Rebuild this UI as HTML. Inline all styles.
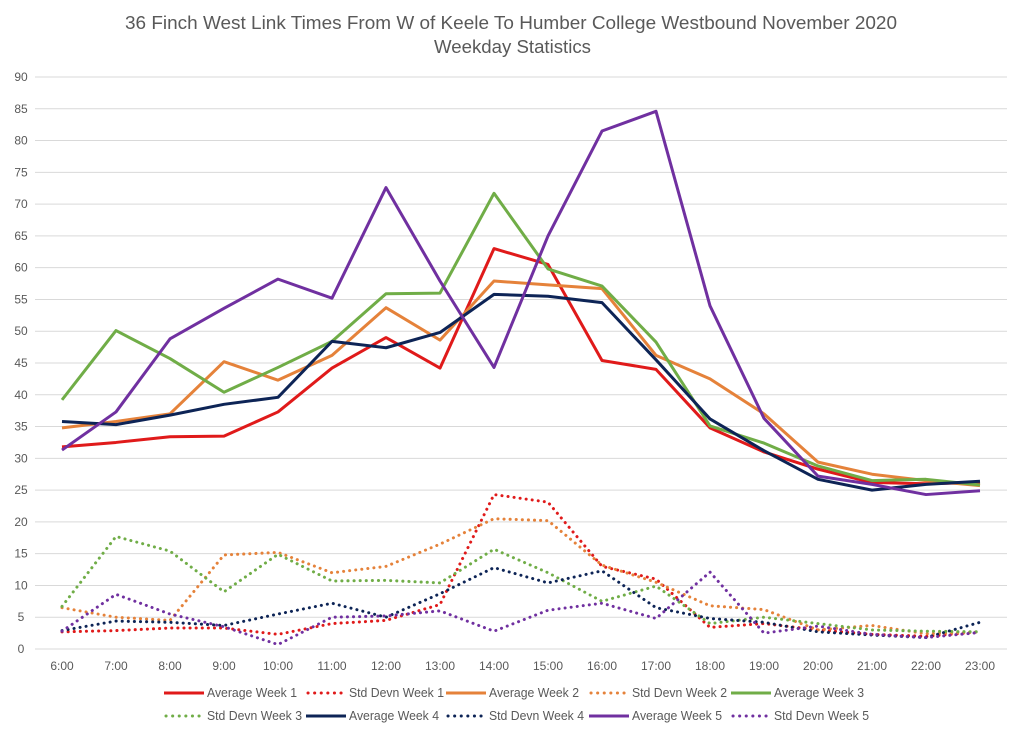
<!DOCTYPE html>
<html><head><meta charset="utf-8"><style>
body{margin:0;background:#fff;font-family:"Liberation Sans",sans-serif}
svg text{font-family:"Liberation Sans",sans-serif;fill:#595959}
</style></head><body>
<svg id="c" width="1024" height="740">
<text x="125" y="29" font-size="18" textLength="772" lengthAdjust="spacingAndGlyphs">36 Finch West Link Times From W of Keele To Humber College Westbound November 2020</text>
<text x="434" y="53" font-size="18" textLength="157" lengthAdjust="spacingAndGlyphs">Weekday Statistics</text>
<g id="grid"></g><g id="marks"></g><g id="legend"></g>
</svg>
<script>
const categories=["6:00","7:00","8:00","9:00","10:00","11:00","12:00","13:00","14:00","15:00","16:00","17:00","18:00","19:00","20:00","21:00","22:00","23:00"];
const yTicks=[0,5,10,15,20,25,30,35,40,45,50,55,60,65,70,75,80,85,90];
const seriesNames=["Average Week 1","Std Devn Week 1","Average Week 2","Std Devn Week 2","Average Week 3","Std Devn Week 3","Average Week 4","Std Devn Week 4","Average Week 5","Std Devn Week 5"];
const avgW1=[31.8,32.5,33.4,33.5,37.3,44.2,49,44.2,63,60.5,45.4,44,34.8,31,28.3,26.2,26,26.2];
const sdW1=[2.7,2.9,3.3,3.3,2.3,4,4.5,7,24.3,23.1,13,11,3.4,4,3,2.3,2,2.7];
const avgW2=[34.8,35.8,37,45.2,42.3,46.2,53.7,48.6,57.9,57.3,56.7,46.2,42.5,37,29.4,27.5,26.5,25.7];
const sdW2=[6.5,5,4.5,14.8,15.2,12,13,16.5,20.5,20.2,13.2,10.5,6.8,6.2,3,3.7,2.4,2.7];
const avgW3=[39.2,50.1,45.7,40.4,44.3,48.4,55.9,56,71.7,59.8,57.1,48.3,35.1,32.4,28.8,26.5,26.7,25.8];
const sdW3=[6.7,17.7,15.4,9,14.9,10.7,10.8,10.4,15.7,12,7.5,9.9,4,5,4,3,2.8,2.7];
const avgW4=[35.8,35.3,36.8,38.5,39.6,48.4,47.4,49.8,55.8,55.5,54.5,45.5,36.2,31.2,26.7,25,25.9,26.4];
const sdW4=[2.9,4.4,4.2,3.7,5.5,7.2,5,8.7,12.8,10.4,12.3,6.5,4.8,4.2,2.7,2.2,1.8,4.2];
const avgW5=[31.3,37.3,48.8,53.6,58.2,55.2,72.6,57.9,44.3,65,81.5,84.6,54,36.3,27.2,25.9,24.3,24.9];
const sdW5=[2.8,8.6,5.5,3.5,0.7,5,5.2,6,2.8,6.1,7.2,4.8,12.1,2.5,3.6,2.3,1.8,2.6];
const NS="http://www.w3.org/2000/svg";
const L=35,R=1007,Y0=649,Y90=77;
const x=i=>L+(R-L)/categories.length*(i+0.5);
const y=v=>Y0-(v/90)*(Y0-Y90);
function mk(t,a,p){const e=document.createElementNS(NS,t);for(const k in a)e.setAttribute(k,a[k]);p.appendChild(e);return e;}
const grid=document.getElementById('grid');
yTicks.forEach(v=>{
 const l=mk('line',{x1:L,x2:R,y1:y(v),y2:y(v),stroke:'#d9d9d9','stroke-width':1},grid);
 
 
 const t=mk('text',{x:21,y:y(v)+4,'text-anchor':'middle','font-size':12},grid);t.textContent=v;
 
 
});
categories.forEach((c,i)=>{
 const t=mk('text',{x:x(i),y:670,'text-anchor':'middle','font-size':12},grid);t.textContent=c;
 
 
});
const series=[[avgW1,'#e01a1a',false],[sdW1,'#e01a1a',true],[avgW2,'#e5823a',false],[sdW2,'#e5823a',true],[avgW3,'#70ad47',false],[sdW3,'#70ad47',true],[avgW4,'#0d2456',false],[sdW4,'#0d2456',true],[avgW5,'#7030a0',false],[sdW5,'#7030a0',true]];
const marks=document.getElementById('marks');
series.forEach((s,k)=>{
 const d=s[0].map((v,i)=>(i?'L':'M')+x(i)+','+y(v)).join(' ');
 const a={d:d,fill:'none',stroke:s[1],'stroke-width':3,'stroke-linejoin':'round'};
 if(s[2]){a['stroke-dasharray']='0.1 6';a['stroke-linecap']='round';}
 const p=mk('path',a,marks);
 
 
});
const lg=document.getElementById('legend');
const legCols=[163,305,445,588,730];
series.forEach((s,k)=>{
 const px=legCols[k%5],py=k<5?697:720;
 const g=mk('g',{},lg);
 
 
 const a={x1:px+1,x2:px+41,y1:py-4,y2:py-4,stroke:s[1],'stroke-width':3};
 if(s[2]){a['x1']=px+3;a['x2']=px+37;a['stroke-dasharray']='0.1 6.5';a['stroke-linecap']='round';}
 mk('line',a,g);
 const t=mk('text',{x:px+44,y:py,'font-size':13,textLength:s[2]?95:90,lengthAdjust:'spacingAndGlyphs'},g);t.textContent=seriesNames[k];
});
</script>
</body></html>
